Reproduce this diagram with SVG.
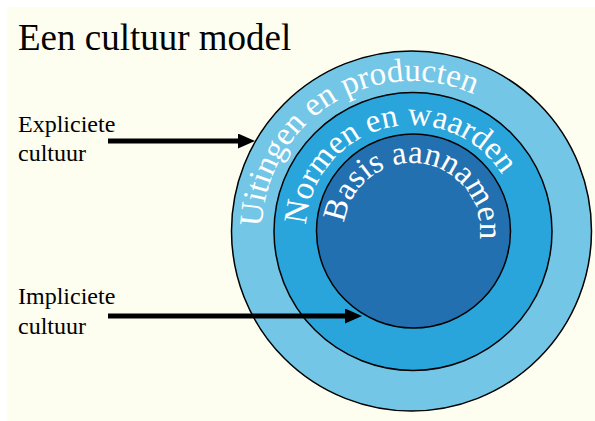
<svg xmlns="http://www.w3.org/2000/svg" xmlns:xlink="http://www.w3.org/1999/xlink" width="595" height="421" viewBox="0 0 595 421">
  <style>
    .lbl { font-family: "Liberation Serif", "Times New Roman", serif; fill: #000; }
    .arc { font-family: "Liberation Serif", "Times New Roman", serif; font-size: 33px; fill: #fff; }
    .ring { stroke: #000; stroke-width: 1.5; }
    .arrow { stroke: #000; stroke-width: 5; fill: none; marker-end: url(#head); }
  </style>
  <defs>
    <marker id="head" markerUnits="userSpaceOnUse" markerWidth="17" markerHeight="15" refX="2" refY="7.5" orient="auto">
      <path d="M0,0 L17,7.5 L0,15 Z" fill="#000"/>
    </marker>
    <path id="p-outer" d="M262,231 A150,150 0 1 1 562,231 A150,150 0 1 1 262,231"/>
    <path id="p-middle" d="M306,231 A106,106 0 1 1 518,231 A106,106 0 1 1 306,231"/>
    <path id="p-inner" d="M344,231 A68,68 0 1 1 480,231 A68,68 0 1 1 344,231"/>
  </defs>
  <rect x="0" y="0" width="595" height="421" fill="#ffffff"/>
  <rect x="7" y="7" width="588" height="414" fill="#FEFEF0"/>
  <text class="lbl" x="18" y="50" font-size="37">Een cultuur model</text>

  <g id="outer">
    <circle class="ring" cx="411.5" cy="231" r="180" fill="#73C6E6"/>
    <text class="arc"><textPath xlink:href="#p-outer" href="#p-outer" startOffset="4">Uitingen en producten</textPath></text>
  </g>
  <g id="middle">
    <circle class="ring" cx="413" cy="231.5" r="139" fill="#2AA5DB"/>
    <text class="arc"><textPath xlink:href="#p-middle" href="#p-middle" startOffset="6">Normen en waarden</textPath></text>
  </g>
  <g id="inner">
    <circle class="ring" cx="413.5" cy="231" r="97" fill="#2270B0"/>
    <text class="arc"><textPath xlink:href="#p-inner" href="#p-inner" startOffset="8">Basis aannamen</textPath></text>
  </g>

  <g id="expliciet">
    <text class="lbl" font-size="24"><tspan x="18" y="131.5">Expliciete</tspan><tspan x="18" y="161">cultuur</tspan></text>
  </g>
  <g id="impliciet">
    <text class="lbl" font-size="24"><tspan x="18" y="304">Impliciete</tspan><tspan x="18" y="334">cultuur</tspan></text>
  </g>

  <g id="connectors">
    <line class="arrow" x1="108" y1="141" x2="240" y2="141"/>
    <line class="arrow" x1="108" y1="316" x2="347" y2="316"/>
  </g>
</svg>
